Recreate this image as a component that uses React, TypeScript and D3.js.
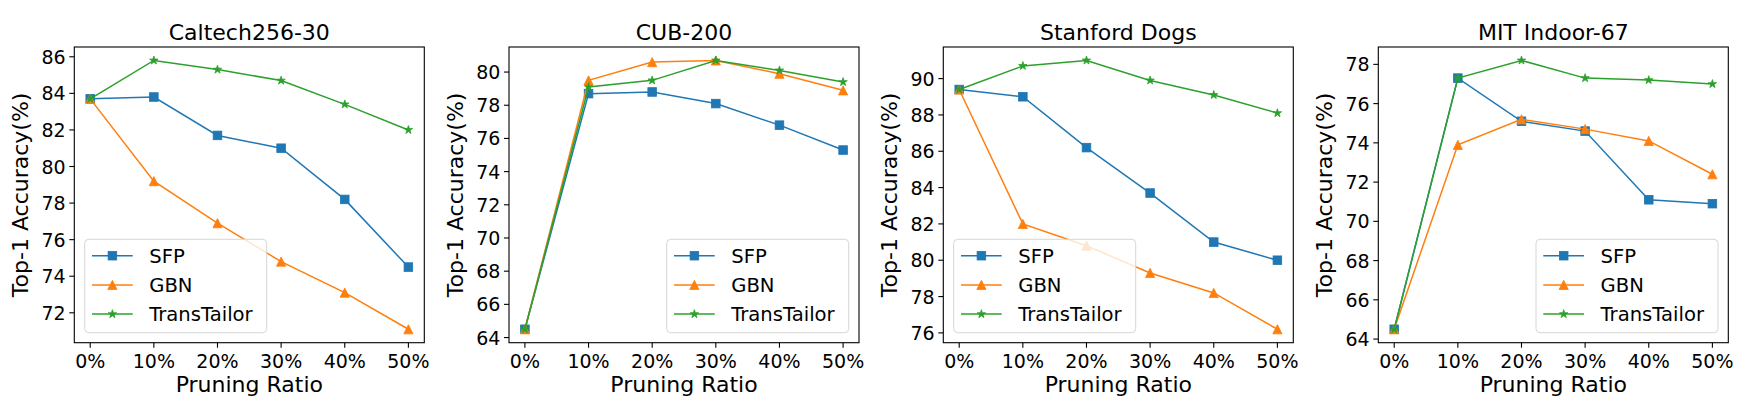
import React from "react";
import * as d3 from "d3";

// ---------- data ----------
const xValues = [0, 10, 20, 30, 40, 50];
const xTickLabels = ["0%", "10%", "20%", "30%", "40%", "50%"];
const seriesNames = ["SFP", "GBN", "TransTailor"];
const seriesColors = ["#1f77b4", "#ff7f0e", "#2ca02c"];
const panelTitles = ["Caltech256-30", "CUB-200", "Stanford Dogs", "MIT Indoor-67"];

const caltechSFP = [83.7, 83.8, 81.7, 81.0, 78.2, 74.5];
const caltechGBN = [83.7, 79.2, 76.9, 74.8, 73.1, 71.1];
const caltechTT = [83.7, 85.8, 85.3, 84.7, 83.4, 82.0];

const cubSFP = [64.5, 78.7, 78.8, 78.1, 76.8, 75.3];
const cubGBN = [64.5, 79.5, 80.6, 80.7, 79.9, 78.9];
const cubTT = [64.5, 79.1, 79.5, 80.7, 80.1, 79.4];

const dogsSFP = [89.4, 89.0, 86.2, 83.7, 81.0, 80.0];
const dogsGBN = [89.4, 82.0, 80.8, 79.3, 78.2, 76.2];
const dogsTT = [89.4, 90.7, 91.0, 89.9, 89.1, 88.1];

const mitSFP = [64.5, 77.3, 75.1, 74.6, 71.1, 70.9];
const mitGBN = [64.5, 73.9, 75.2, 74.7, 74.1, 72.4];
const mitTT = [64.5, 77.3, 78.2, 77.3, 77.2, 77.0];

const caltechYTicks = [72, 74, 76, 78, 80, 82, 84, 86];
const cubYTicks = [64, 66, 68, 70, 72, 74, 76, 78, 80];
const dogsYTicks = [76, 78, 80, 82, 84, 86, 88, 90];
const mitYTicks = [64, 66, 68, 70, 72, 74, 76, 78];

const panelSeries = [
  [caltechSFP, caltechGBN, caltechTT],
  [cubSFP, cubGBN, cubTT],
  [dogsSFP, dogsGBN, dogsTT],
  [mitSFP, mitGBN, mitTT],
];
const panelYTicks = [caltechYTicks, cubYTicks, dogsYTicks, mitYTicks];
const legendLoc = ["lower left", "lower right", "lower left", "lower right"];

// ---------- layout ----------
const FONT = "DejaVu Sans, Verdana, sans-serif";
const panelLefts = [74.3, 509, 943.3, 1378.3];
const TOP = 47;
const W = 350;
const H = 295.7;

function Marker({ kind, x, y, color }: { kind: number; x: number; y: number; color: string }) {
  if (kind === 0) {
    const s = 8.6;
    return (
      <rect x={x - s / 2} y={y - s / 2} width={s} height={s} fill={color} stroke={color} strokeWidth={0.8} />
    );
  }
  if (kind === 1) {
    const s = 9.2;
    const p = `M${x},${y - s / 2}L${x - s / 2},${y + s / 2}L${x + s / 2},${y + s / 2}Z`;
    return <path d={p} fill={color} stroke={color} strokeWidth={0.8} strokeLinejoin="miter" />;
  }
  // star
  const R = 4.4;
  const r = R * 0.381966;
  const pts: string[] = [];
  for (let i = 0; i < 10; i++) {
    const ang = -Math.PI / 2 + (i * Math.PI) / 5;
    const rr = i % 2 === 0 ? R : r;
    pts.push(`${x + rr * Math.cos(ang)},${y + rr * Math.sin(ang)}`);
  }
  return <path d={"M" + pts.join("L") + "Z"} fill={color} stroke={color} strokeWidth={0.8} />;
}

function Panel({ idx }: { idx: number }) {
  const series = panelSeries[idx];
  const all = series.flat();
  const lo0 = d3.min(all) as number;
  const hi0 = d3.max(all) as number;
  const pad = (hi0 - lo0) * 0.05;
  const x = d3.scaleLinear().domain([-2.5, 52.5]).range([0, W]);
  const y = d3.scaleLinear().domain([lo0 - pad, hi0 + pad]).range([H, 0]);
  const line = d3
    .line<number>()
    .x((_, i) => x(xValues[i]))
    .y((d) => y(d));

  const legW = 182;
  const legH = 93.4;
  const legX = legendLoc[idx] === "lower left" ? 10.4 : W - 10.3 - legW;
  const legY = H - 10 - legH;

  return (
    <g transform={`translate(${panelLefts[idx]},${TOP})`}>
      {series.map((vals, si) => (
        <g key={si}>
          <path d={line(vals) || ""} fill="none" stroke={seriesColors[si]} strokeWidth={1.5} />
          {vals.map((v, i) => (
            <Marker key={i} kind={si} x={x(xValues[i])} y={y(v)} color={seriesColors[si]} />
          ))}
        </g>
      ))}
      <rect x={0} y={0} width={W} height={H} fill="none" stroke="#000" strokeWidth={1.1} />
      {xValues.map((v, i) => (
        <g key={i}>
          <line x1={x(v)} x2={x(v)} y1={H} y2={H + 5} stroke="#000" strokeWidth={1.1} />
          <text x={x(v)} y={H + 25.2} textAnchor="middle" fontSize={19} fontFamily={FONT} fill="#000">
            {xTickLabels[i]}
          </text>
        </g>
      ))}
      {panelYTicks[idx].map((t) => (
        <g key={t}>
          <line x1={-5} x2={0} y1={y(t)} y2={y(t)} stroke="#000" strokeWidth={1.1} />
          <text x={-8.6} y={y(t)} dy="0.37em" textAnchor="end" fontSize={19} fontFamily={FONT} fill="#000">
            {t}
          </text>
        </g>
      ))}
      <text x={W / 2} y={-7.5} textAnchor="middle" fontSize={22} fontFamily={FONT} fill="#000">
        {panelTitles[idx]}
      </text>
      <text x={W / 2} y={H + 49.3} textAnchor="middle" fontSize={22} fontFamily={FONT} fill="#000">
        Pruning Ratio
      </text>
      <text
        transform={`translate(${-46},${H / 2}) rotate(-90)`}
        textAnchor="middle"
        fontSize={22}
        fontFamily={FONT}
        fill="#000"
      >
        Top-1 Accuracy(%)
      </text>
      <g transform={`translate(${legX},${legY})`}>
        <rect
          x={0}
          y={0}
          width={legW}
          height={legH}
          rx={4}
          ry={4}
          fill="#fff"
          fillOpacity={0.8}
          stroke="#d6d6d6"
          strokeWidth={1}
        />
        {seriesNames.map((name, si) => {
          const cy = 16.4 + si * 29.2;
          return (
            <g key={name}>
              <line x1={7.3} x2={48} y1={cy} y2={cy} stroke={seriesColors[si]} strokeWidth={1.5} />
              <Marker kind={si} x={27.7} y={cy} color={seriesColors[si]} />
              <text x={64.5} y={cy + 7.1} fontSize={19.6} fontFamily={FONT} fill="#000">
                {name}
              </text>
            </g>
          );
        })}
      </g>
    </g>
  );
}

export default function App() {
  return (
    <svg
      width={1743}
      height={405}
      viewBox="0 0 1743 405"
      style={{ position: "absolute", left: 0, top: 0, background: "#fff" }}
    >
      <rect x={0} y={0} width={1743} height={405} fill="#fff" />
      {panelTitles.map((_, i) => (
        <Panel key={i} idx={i} />
      ))}
    </svg>
  );
}
